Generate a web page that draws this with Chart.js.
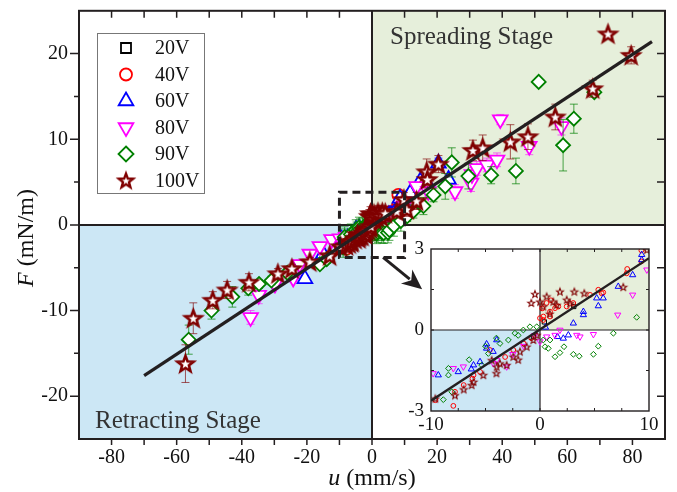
<!DOCTYPE html>
<html>
<head>
<meta charset="utf-8">
<script src="https://cdn.jsdelivr.net/npm/chart.js@4.4.0/dist/chart.umd.min.js"></script>
<style>
  html, body { margin: 0; padding: 0; background: #fff; }
  #wrap { position: relative; width: 677px; height: 492px; }
  #main { position: absolute; left: 0; top: 0; }
  #inset { position: absolute; left: 390px; top: 237px; }
</style>
</head>
<body>
<div id="wrap">
  <canvas id="main" width="677" height="492"></canvas>
  <canvas id="inset" width="270" height="200"></canvas>
</div>
<script>
(function () {
  "use strict";

  // ---- dados ----
  var xTicks = [-80, -60, -40, -20, 0, 20, 40, 60, 80];
  var yTicks = [-20, -10, 0, 10, 20];
  var insetXTicks = [-10, 0, 10];
  var insetYTicks = [-3, 0, 3];
  var voltages = ["20V", "40V", "60V", "80V", "90V", "100V"];

  // ajuste linear (extremos da reta)
  var fitU = [-70, 86], fitF = [-17.6, 21.4];
  var insetFitU = [-10, 10], insetFitF = [-2.62, 2.66];
  // janela ampliada no detalhe
  var zoomU = [-10, 10], zoomF = [-3.8, 3.8];

  // [u (mm/s), F (mN/m), erro]
  var v20 = [[3.1, 0.87, 0.3], [0.4, 0.3, 0.3], [-0.6, -0.25, 0.3]];

  var v40 = [
    [-9.6, -2.6, 0.3], [-7.95, -2.81, 0.3], [-7.8, -2.29, 0.3], [-7.0, -2.04, 0.3], [-6.2, -1.8, 0.3],
    [-6.1, -1.67, 0.3], [-5.5, -1.55, 0.3], [-4.6, -0.74, 0.3], [-3.2, -1.0, 0.3], [-2.45, -0.74, 0.3],
    [-1.5, -0.5, 0.3], [-0.8, -0.3, 0.3], [0, 0.44, 0.3], [0.3, 0.37, 0.3], [0.3, 0.5, 0.3],
    [0.2, 0.8, 0.3], [0.6, 1.0, 0.3], [0.92, 0.5, 0.3], [0.92, 0.68, 0.3], [1.0, 1.1, 0.3],
    [1.38, 0.81, 0.3], [1.68, 0.87, 0.3], [2.45, 0.87, 0.3], [3.05, 1.0, 0.3], [4.6, 1.3, 0.3],
    [5.35, 1.49, 0.3], [5.66, 1.36, 0.3], [5.8, 1.39, 0.3], [7.95, 2.1, 0.3], [8.0, 2.26, 0.3],
    [9.3, 2.54, 0.3], [9.3, 2.95, 0.3], [8.1, 3.5, 0.4]
  ];

  var v60 = [
    [-20.6, -6.3, 0.4], [-15, -3.4, 0.3],
    [-9.33, -1.67, 0.3], [-7.5, -1.55, 0.3], [-6.3, -1.45, 0.3], [-6.1, -1.3, 0.3], [-5.5, -1.18, 0.3],
    [-4.9, -0.68, 0.3], [-4.9, -0.52, 0.3], [-4.3, -0.8, 0.3], [-3.97, -0.37, 0.3],
    [0.5, 0.1, 0.3], [1.6, -0.25, 0.3], [2.14, -0.31, 0.3], [2.6, -0.19, 0.3], [3.06, 0.25, 0.3],
    [3.98, 0.56, 0.3], [3.98, 0.68, 0.3], [5.2, 1.18, 0.3], [5.35, 0.89, 0.3], [5.8, 1.18, 0.3],
    [7.18, 1.61, 0.3], [8.5, 2.04, 0.3], [9.33, 2.6, 0.3], [9.33, 2.79, 0.3],
    [8.6, 3.1, 0.3], [11.7, 3.7, 0.4], [14.8, 5.1, 0.5], [17, 4.8, 0.4], [20.4, 7.2, 0.6], [23.5, 5.3, 0.5]
  ];

  var v80 = [
    [-37.3, -10.8, 0.8], [-34.8, -8.2, 1.0], [-29.8, -6.9, 0.6], [-24.2, -6.2, 0.5], [-22.2, -4.6, 0.5],
    [-19.1, -3.4, 0.4], [-16, -2.5, 0.4], [-12.4, -1.7, 0.3],
    [-9.8, -1.61, 0.3], [-7.95, -1.42, 0.3], [-7.03, -1.36, 0.3], [-4.28, -1.24, 0.3], [-3.97, -1.12, 0.3],
    [-3.06, -1.36, 0.3], [-2.5, -0.9, 0.3], [-1.5, -0.6, 0.3], [-0.5, -0.2, 0.3], [0, -0.43, 0.3],
    [0.61, -0.25, 0.3], [1.38, -0.19, 0.3], [1.83, 0, 0.3], [3.37, -0.19, 0.3], [3.67, -0.25, 0.3],
    [4.9, -0.16, 0.3], [7.13, 0.56, 0.3], [8.5, 1.3, 0.3], [9.8, 2.23, 0.3],
    [13.7, 4.5, 0.5], [17.3, 3.9, 0.6], [25.5, 3.9, 0.8], [30.4, 4.9, 1.0], [30.7, 5.9, 0.8],
    [32.2, 6.6, 0.8], [35.3, 7.0, 0.8], [38.4, 7.6, 0.8], [39.4, 12.3, 0.6], [48.3, 9.2, 1.0], [58.2, 11.5, 1.0]
  ];

  var v90 = [
    [-56.3, -13.4, 1.7], [-49.3, -10, 1.0], [-42.9, -8.4, 1.2], [-38, -7.4, 0.8], [-34.7, -6.9, 0.5],
    [-30.9, -6.5, 0.5], [-26, -5.6, 0.5], [-16, -4.6, 0.5], [-13.9, -4.0, 0.5],
    [-8.87, -2.58, 1.2], [-8.4, -1.67, 1.2], [-8.4, -1.42, 1.2], [-8.1, -2.29, 1.2], [-6.5, -1.1, 1.2],
    [-5.35, -1.3, 1.2], [-5.0, -0.6, 1.2], [-4.74, -0.87, 1.2], [-4.0, -0.3, 1.2], [-3.67, -0.5, 1.2],
    [-2.9, -0.37, 1.2], [-2.3, -0.12, 1.2], [-2.0, -0.2, 1.2], [-1.53, 0, 1.2], [-0.92, 0.12, 1.2],
    [-0.3, 0.12, 1.2], [0.3, -0.37, 1.2], [0.46, -0.62, 1.2], [0.76, -0.68, 1.2], [0.92, -0.37, 1.2],
    [1.38, -0.99, 1.2], [1.83, -0.84, 1.2], [2.2, -0.62, 1.2], [3.06, -0.9, 1.2], [3.6, -0.97, 1.2],
    [4.9, -0.9, 1.2], [5.35, -0.6, 1.2], [6.73, -0.12, 1.2], [8.87, 0.47, 1.2],
    [10.8, 1.0, 0.6], [12.7, 1.6, 0.8], [15.8, 2.2, 1.0], [18.9, 3.5, 0.8], [22.5, 4.5, 1.5],
    [24.5, 7.3, 1.7], [29.6, 5.7, 1.5], [36.6, 5.8, 1.0], [44.2, 6.3, 1.5], [51.2, 16.7, 0],
    [58.7, 9.3, 3.0], [62, 12.4, 1.7], [68.3, 15.5, 0.5]
  ];

  var v100 = [
    [-57.3, -16.2, 2.2], [-54.9, -10.9, 1.8], [-48.9, -8.8, 1.0], [-44.5, -7.6, 1.0], [-37.8, -6.7, 1.0],
    [-28.9, -5.7, 0.6], [-24.6, -5.1, 0.5], [-19.1, -4.3, 0.5], [-13, -3.6, 0.5],
    [-9.6, -2.54, 0.8], [-7.8, -2.42, 0.8], [-7.0, -2.2, 0.8], [-6.27, -2.04, 0.8], [-6.1, -1.92, 0.8],
    [-5.2, -1.67, 0.8], [-4.43, -1.12, 0.8], [-4.0, -1.6, 0.8], [-3.97, -1.36, 0.8], [-3.67, -1.24, 0.8],
    [-3.06, -1.3, 0.8], [-2.45, -0.99, 0.8], [-2.0, -1.1, 0.8], [-1.83, -0.8, 0.8], [-1.22, -0.62, 0.8],
    [-0.8, 1.0, 0.8], [-0.61, -0.37, 0.8], [-0.46, 1.33, 0.8], [-0.3, -0.19, 0.8],
    [0, 1.05, 0.8], [0.3, 0.87, 0.8], [0.61, 1.24, 0.8], [0.9, 0.6, 0.8], [1.22, 1.05, 0.8],
    [1.53, 0.93, 0.8], [1.83, 1.42, 0.8], [2.45, 1.12, 0.8], [2.75, 0.99, 0.8], [3.15, 1.42, 0.8],
    [4.06, 1.36, 0.8], [7.64, 1.59, 0.8], [9.8, 2.97, 0.8],
    [10.7, 1.8, 0.8], [13.7, 2.8, 1.0], [16.8, 6.2, 1.5], [17, 5.3, 1.0], [20.4, 7.1, 1.0],
    [31, 8.7, 1.2], [34, 9.0, 1.5], [42.5, 9.7, 2.0], [47.9, 10.3, 1.5], [56.3, 12.6, 1.5],
    [67.8, 15.9, 1.0], [72.5, 22.3, 0], [79.6, 19.8, 1.0]
  ];

  var series = [v20, v40, v60, v80, v90, v100];

  // ---- aparência ----
  var SERIF = '"Liberation Serif", "Times New Roman", serif';
  var INK = "#231f20";
  var looks = [
    { color: "#000000", err: "rgba(0,0,0,0.6)",     style: "rect",     rot: 0,   r: 7.5, ir: 3.0 },
    { color: "#ff0000", err: "rgba(255,0,0,0.6)",   style: "circle",   rot: 0,   r: 6.0, ir: 2.4 },
    { color: "#0000ff", err: "rgba(0,0,255,0.6)",   style: "triangle", rot: 0,   r: 8.5, ir: 3.6 },
    { color: "#ff00ff", err: "rgba(255,0,255,0.6)", style: "triangle", rot: 180, r: 8.5, ir: 3.6 },
    { color: "#008000", err: "rgba(0,128,0,0.7)",   style: "rectRot",  rot: 0,   r: 7.0, ir: 2.9 },
    { color: "#800000", err: "rgba(128,0,0,0.65)",  style: "star",     rot: 0,   r: 9.0, ir: 4.0 }
  ];

  function starCanvas(r, lw, color, fill) {
    var s = Math.ceil(2 * r + 2 * lw + 2);
    var c = document.createElement("canvas");
    c.width = s; c.height = s;
    var g = c.getContext("2d");
    g.translate(s / 2, s / 2 + r * 0.08);
    g.beginPath();
    for (var i = 0; i < 10; i++) {
      var rr = i % 2 ? r * 0.42 : r;
      var a = -Math.PI / 2 + i * Math.PI / 5;
      g.lineTo(rr * Math.cos(a), rr * Math.sin(a));
    }
    g.closePath();
    if (fill) { g.fillStyle = fill; g.fill(); }
    g.lineWidth = lw; g.strokeStyle = color; g.lineJoin = "miter"; g.stroke();
    return c;
  }
  var starBig = starCanvas(8.5, 2.6, "#800000", "#ffffff");
  var starSmall = starCanvas(3.6, 1.1, "#800000", null);
  var starLegend = starCanvas(7.5, 2.4, "#800000", "#ffffff");

  function toXY(arr) { return arr.map(function (p) { return { x: p[0], y: p[1] }; }); }

  // marcador da legenda desenhado à mão
  function drawMark(ctx, k, x, y) {
    var L = looks[k];
    ctx.save();
    ctx.strokeStyle = L.color; ctx.fillStyle = "#fff"; ctx.lineWidth = 1.8;
    ctx.beginPath();
    if (L.style === "rect") {
      ctx.rect(x - 5, y - 5, 10, 10);
    } else if (L.style === "circle") {
      ctx.arc(x, y, 6, 0, Math.PI * 2);
    } else if (L.style === "triangle") {
      var s = L.rot ? -1 : 1, r = 8.5;
      ctx.moveTo(x, y - s * r);
      ctx.lineTo(x + r * 0.866, y + s * r * 0.5);
      ctx.lineTo(x - r * 0.866, y + s * r * 0.5);
      ctx.closePath();
    } else if (L.style === "rectRot") {
      ctx.moveTo(x, y - 7.5); ctx.lineTo(x + 7.5, y); ctx.lineTo(x, y + 7.5); ctx.lineTo(x - 7.5, y);
      ctx.closePath();
    }
    if (L.style === "star") {
      ctx.drawImage(starLegend, x - starLegend.width / 2, y - starLegend.height / 2);
    } else { ctx.fill(); ctx.stroke(); }
    ctx.restore();
  }

  // barras de erro, desenhadas logo antes de cada série
  var errBars = {
    id: "errBars",
    beforeDatasetDraw: function (c, args) {
      var ds = c.data.datasets[args.index];
      if (!ds.src) return;
      var xs = c.scales.x, ys = c.scales.y, ctx = c.ctx, a = c.chartArea;
      ctx.save();
      ctx.beginPath(); ctx.rect(a.left, a.top, a.right - a.left, a.bottom - a.top); ctx.clip();
      ctx.strokeStyle = ds.errColor; ctx.lineWidth = 1;
      ds.src.forEach(function (p) {
        if (!p[2]) return;
        var px = xs.getPixelForValue(p[0]);
        var y1 = ys.getPixelForValue(p[1] + p[2]), y2 = ys.getPixelForValue(p[1] - p[2]);
        ctx.beginPath();
        ctx.moveTo(px, y1); ctx.lineTo(px, y2);
        ctx.moveTo(px - 4, y1); ctx.lineTo(px + 4, y1);
        ctx.moveTo(px - 4, y2); ctx.lineTo(px + 4, y2);
        ctx.stroke();
      });
      ctx.restore();
    }
  };

  function quadrants(c, lw) {
    var a = c.chartArea, xs = c.scales.x, ys = c.scales.y, ctx = c.ctx;
    var x0 = xs.getPixelForValue(0), y0 = ys.getPixelForValue(0);
    ctx.save();
    ctx.fillStyle = "#ffffff"; ctx.fillRect(a.left, a.top, a.right - a.left, a.bottom - a.top);
    ctx.fillStyle = "#e6efdb"; ctx.fillRect(x0, a.top, a.right - x0, y0 - a.top);
    ctx.fillStyle = "#cce7f5"; ctx.fillRect(a.left, y0, x0 - a.left, a.bottom - y0);
    ctx.strokeStyle = INK; ctx.lineWidth = lw;
    ctx.beginPath();
    ctx.moveTo(a.left, y0); ctx.lineTo(a.right, y0);
    ctx.moveTo(x0, a.top); ctx.lineTo(x0, a.bottom);
    ctx.stroke();
    ctx.restore();
  }

  // moldura e marcas: lista de [valor, comprimento] por lado (positivo = para fora)
  function frame(c, lw, marks) {
    var a = c.chartArea, xs = c.scales.x, ys = c.scales.y, ctx = c.ctx;
    ctx.save();
    ctx.strokeStyle = INK; ctx.lineWidth = lw;
    ctx.strokeRect(a.left, a.top, a.right - a.left, a.bottom - a.top);
    ctx.lineWidth = Math.max(1, lw - 0.5);
    ctx.beginPath();
    marks.bottom.forEach(function (m) { var p = xs.getPixelForValue(m[0]); ctx.moveTo(p, a.bottom); ctx.lineTo(p, a.bottom + m[1]); });
    marks.top.forEach(function (m) { var p = xs.getPixelForValue(m[0]); ctx.moveTo(p, a.top); ctx.lineTo(p, a.top - m[1]); });
    marks.left.forEach(function (m) { var p = ys.getPixelForValue(m[0]); ctx.moveTo(a.left, p); ctx.lineTo(a.left - m[1], p); });
    marks.right.forEach(function (m) { var p = ys.getPixelForValue(m[0]); ctx.moveTo(a.right, p); ctx.lineTo(a.right + m[1], p); });
    ctx.stroke();
    ctx.restore();
  }

  function range(a, b, step, len) {
    var out = [];
    for (var v = a; v <= b + 1e-9; v += step) out.push([v, len]);
    return out;
  }
  var mainMarks = {
    bottom: range(-80, 80, 10, 6),
    top: range(-80, 80, 10, -7),
    left: range(-20, 20, 10, 9).concat(range(-15, 15, 10, 5)),
    right: range(-20, 20, 5, -8)
  };
  var insetMarks = {
    bottom: range(-7.5, 7.5, 2.5, -3),
    top: range(-7.5, 7.5, 2.5, -3),
    left: range(-1.5, 1.5, 1.5, -3),
    right: range(-1.5, 1.5, 1.5, -3)
  };

  function mixedText(ctx, parts, x, y) {
    var total = 0;
    parts.forEach(function (p) { ctx.font = p[1]; total += ctx.measureText(p[0]).width; });
    var cx = x - total / 2;
    parts.forEach(function (p) { ctx.font = p[1]; ctx.fillText(p[0], cx, y); cx += ctx.measureText(p[0]).width; });
  }

  var mainDecor = {
    id: "mainDecor",
    beforeDatasetsDraw: function (c) { quadrants(c, 2); },
    afterDatasetsDraw: function (c) {
      var xs = c.scales.x, ys = c.scales.y, ctx = c.ctx;
      // janela tracejada
      var l = xs.getPixelForValue(zoomU[0]), r = xs.getPixelForValue(zoomU[1]);
      var t = ys.getPixelForValue(zoomF[1]), b = ys.getPixelForValue(zoomF[0]);
      ctx.save();
      ctx.strokeStyle = INK; ctx.lineWidth = 3; ctx.setLineDash([8, 5]);
      ctx.strokeRect(l, t, r - l, b - t);
      ctx.restore();
    },
    afterDraw: function (c) {
      var xs = c.scales.x, ys = c.scales.y, ctx = c.ctx, a = c.chartArea;
      frame(c, 2, mainMarks);

      // seta para o detalhe
      var sx = xs.getPixelForValue(3.4), sy = ys.getPixelForValue(-3.8);
      var ex = xs.getPixelForValue(15.4), ey = ys.getPixelForValue(-7.5);
      var ang = Math.atan2(ey - sy, ex - sx);
      ctx.save();
      ctx.strokeStyle = INK; ctx.fillStyle = INK; ctx.lineWidth = 3;
      ctx.beginPath(); ctx.moveTo(sx, sy);
      ctx.lineTo(ex - 16 * Math.cos(ang), ey - 16 * Math.sin(ang)); ctx.stroke();
      ctx.beginPath();
      ctx.moveTo(ex, ey);
      ctx.lineTo(ex - 20 * Math.cos(ang) + 9 * Math.sin(ang), ey - 20 * Math.sin(ang) - 9 * Math.cos(ang));
      ctx.lineTo(ex - 14 * Math.cos(ang), ey - 14 * Math.sin(ang));
      ctx.lineTo(ex - 20 * Math.cos(ang) - 9 * Math.sin(ang), ey - 20 * Math.sin(ang) + 9 * Math.cos(ang));
      ctx.closePath(); ctx.fill();
      ctx.restore();

      // rótulos das fases
      ctx.save();
      ctx.fillStyle = "#333"; ctx.font = "25px " + SERIF; ctx.textBaseline = "alphabetic";
      ctx.fillText("Spreading Stage", 390, 44);
      ctx.fillText("Retracting Stage", 95, 428);
      ctx.restore();

      // legenda
      ctx.save();
      ctx.fillStyle = "#fff"; ctx.fillRect(97.5, 33.5, 107, 160);
      ctx.strokeStyle = "#777"; ctx.lineWidth = 1; ctx.strokeRect(97.5, 33.5, 107, 160);
      ctx.fillStyle = "#111"; ctx.font = "20px " + SERIF; ctx.textBaseline = "middle";
      voltages.forEach(function (v, i) {
        var yy = 48 + i * 26.5;
        drawMark(ctx, i, 126, yy);
        ctx.fillText(v, 155, yy + 1);
      });
      ctx.restore();

      // títulos dos eixos
      ctx.save();
      ctx.fillStyle = "#111"; ctx.textBaseline = "alphabetic";
      mixedText(ctx, [["u", "italic 24px " + SERIF], [" (mm/s)", "24px " + SERIF]], (a.left + a.right) / 2, 485);
      ctx.translate(33, 238); ctx.rotate(-Math.PI / 2);
      mixedText(ctx, [["F", "italic 24px " + SERIF], [" (mN/m)", "24px " + SERIF]], 0, 0);
      ctx.restore();
    }
  };

  var insetDecor = {
    id: "insetDecor",
    beforeDatasetsDraw: function (c) { quadrants(c, 1.2); },
    afterDraw: function (c) { frame(c, 1.4, insetMarks); }
  };

  function buildSets(big) {
    var sets = series.map(function (arr, k) {
      var L = looks[k];
      var st = L.style === "star" ? (big ? starBig : starSmall) : L.style;
      return {
        label: voltages[k],
        data: toXY(arr),
        src: big ? arr : null,
        errColor: L.err,
        pointStyle: st,
        rotation: L.rot,
        pointRadius: big ? L.r : L.ir,
        borderColor: L.color,
        backgroundColor: big ? "#ffffff" : "rgba(255,255,255,0)",
        borderWidth: big ? 1.8 : 1,
        showLine: false,
        order: 6 - k
      };
    });
    var fu = big ? fitU : insetFitU, ff = big ? fitF : insetFitF;
    sets.push({
      label: "fit",
      data: fu.map(function (u, i) { return { x: u, y: ff[i] }; }),
      showLine: true, pointRadius: 0, borderColor: INK,
      borderWidth: big ? 3.2 : 2.4, order: 0
    });
    return sets;
  }

  function fixedTicks(list) {
    return function (s) { s.ticks = list.map(function (v) { return { value: v }; }); };
  }
  // tamanho fixo do eixo e sem folga extra para os rótulos das pontas
  function fitX(h) {
    return function (s) { s.height = h; s.paddingLeft = 0; s.paddingRight = 0; s.paddingTop = 0; s.paddingBottom = 0; };
  }
  function fitY(w) {
    return function (s) { s.width = w; s.paddingTop = 0; s.paddingBottom = 0; s.paddingLeft = 0; s.paddingRight = 0; };
  }

  new Chart(document.getElementById("main"), {
    type: "scatter",
    data: { datasets: buildSets(true) },
    plugins: [errBars, mainDecor],
    options: {
      responsive: false, animation: false,
      layout: { padding: { top: 9, right: 12, left: 0, bottom: 0 } },
      plugins: { legend: { display: false }, tooltip: { enabled: false } },
      scales: {
        x: {
          type: "linear", min: -90, max: 90,
          grid: { display: false, drawTicks: false }, border: { display: false },
          afterBuildTicks: fixedTicks(xTicks),
          afterFit: fitX(53),
          ticks: { font: { family: SERIF, size: 20 }, color: "#111", padding: 7, maxRotation: 0, autoSkip: false,
            callback: function (v) { return String(v); } }
        },
        y: {
          type: "linear", min: -25, max: 25,
          grid: { display: false, drawTicks: false }, border: { display: false },
          afterBuildTicks: fixedTicks(yTicks),
          afterFit: fitY(79),
          ticks: { font: { family: SERIF, size: 20 }, color: "#111", padding: 11, autoSkip: false,
            callback: function (v) { return String(v); } }
        }
      }
    }
  });

  new Chart(document.getElementById("inset"), {
    type: "scatter",
    data: { datasets: buildSets(false) },
    plugins: [insetDecor],
    options: {
      responsive: false, animation: false,
      layout: { padding: { top: 12, right: 11, left: 0, bottom: 0 } },
      plugins: { legend: { display: false }, tooltip: { enabled: false } },
      scales: {
        x: {
          type: "linear", min: -10, max: 10,
          grid: { display: false, drawTicks: false }, border: { display: false },
          afterBuildTicks: fixedTicks(insetXTicks),
          afterFit: fitX(26),
          ticks: { font: { family: SERIF, size: 19 }, color: "#111", padding: 3, maxRotation: 0, autoSkip: false,
            callback: function (v) { return String(v); } }
        },
        y: {
          type: "linear", min: -3, max: 3,
          grid: { display: false, drawTicks: false }, border: { display: false },
          afterBuildTicks: fixedTicks(insetYTicks),
          afterFit: fitY(41),
          ticks: { font: { family: SERIF, size: 19 }, color: "#111", padding: 7, autoSkip: false,
            callback: function (v) { return String(v); } }
        }
      }
    }
  });
})();
</script>
</body>
</html>
